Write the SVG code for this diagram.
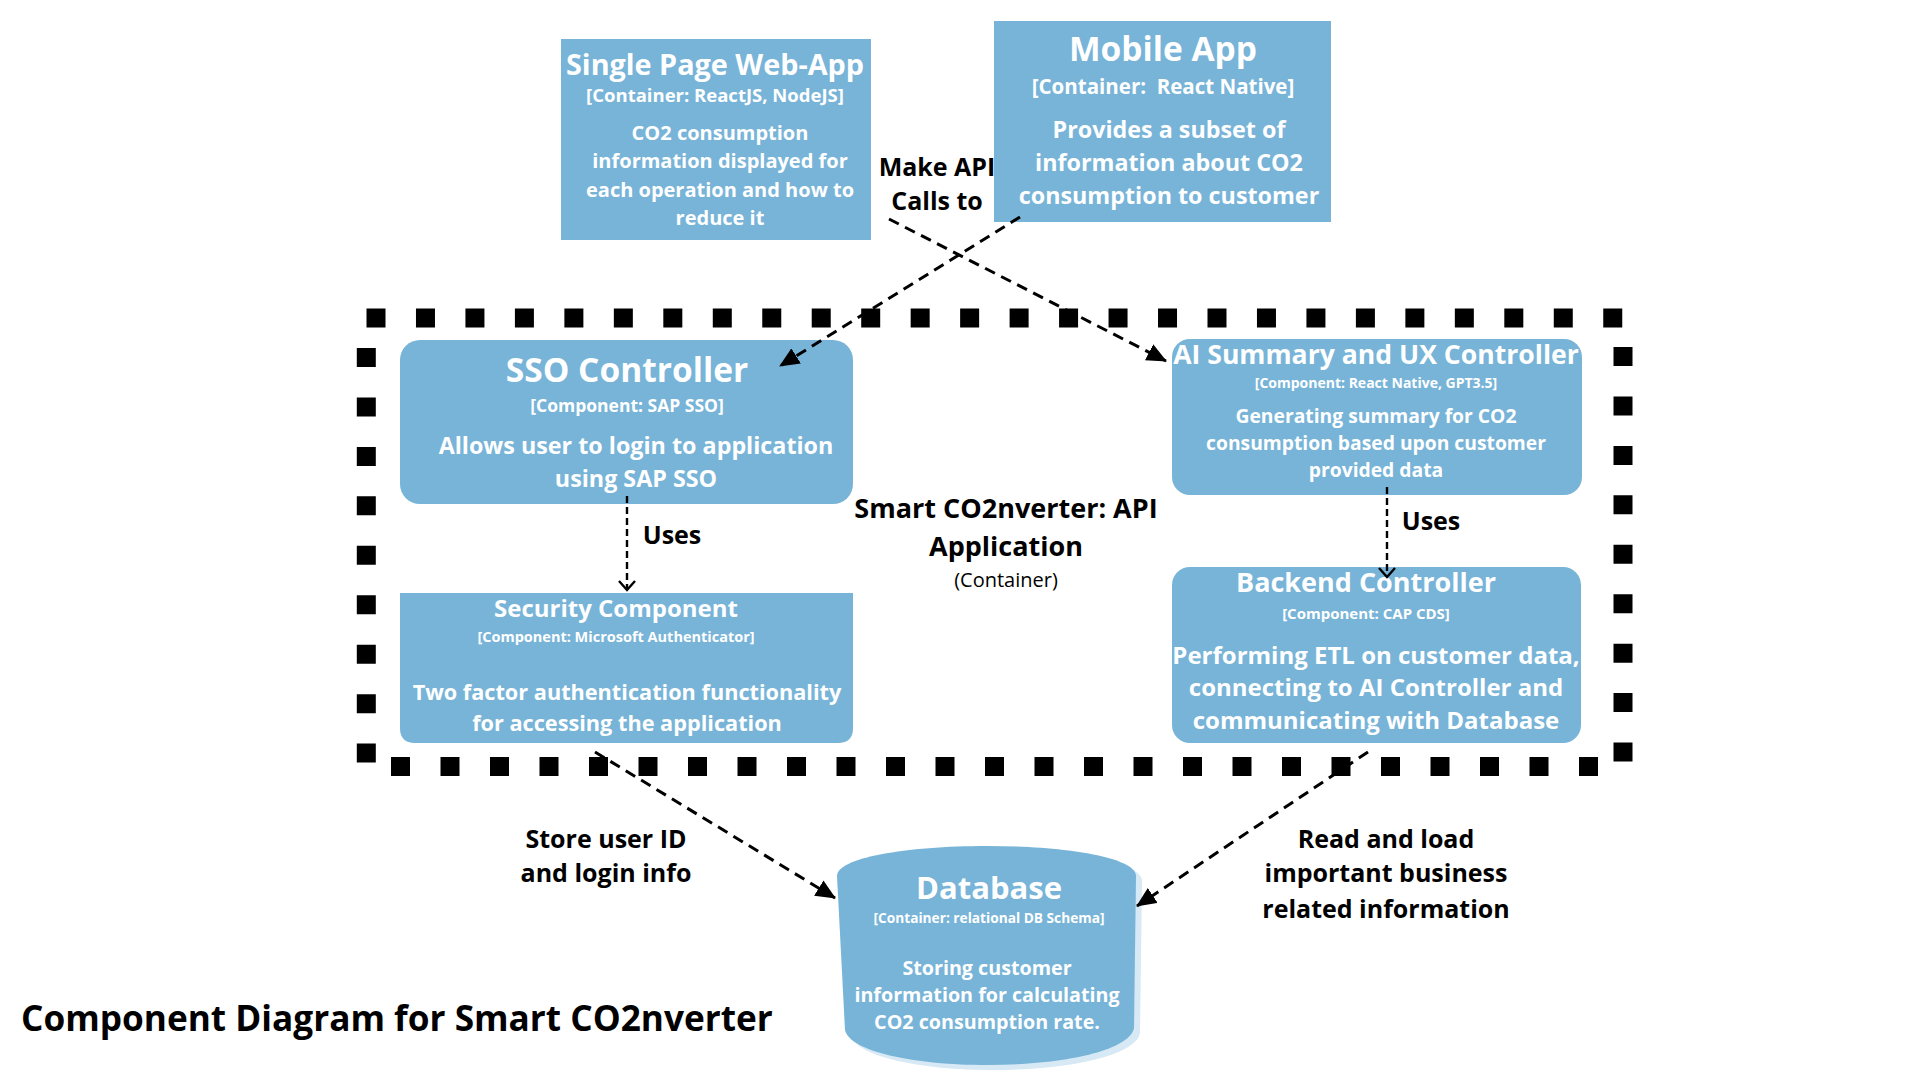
<svg xmlns="http://www.w3.org/2000/svg" width="1920" height="1080" viewBox="0 0 1920 1080">
<defs>
<style>
.box{fill:#77b4d8}
.t{font-family:"Open Sans","Noto Sans","DejaVu Sans",sans-serif;font-weight:700;text-anchor:middle}
.w{fill:#ffffff}
.k{fill:#000000}
.reg{font-weight:400}
.bd{fill:none;stroke:#000;stroke-width:19}
.con{fill:none;stroke:#000;stroke-width:3;stroke-dasharray:11 7}
.thin{fill:none;stroke:#000;stroke-width:2.4;stroke-dasharray:7 4}
</style>
<marker id="tri" markerUnits="userSpaceOnUse" markerWidth="20" markerHeight="18" refX="19" refY="9" orient="auto"><path d="M0,0 L20,9 L0,18 Z" fill="#000"/></marker>
<marker id="chev" markerUnits="userSpaceOnUse" markerWidth="12" markerHeight="20" refX="10" refY="10" orient="auto"><path d="M1,2 L10,10 L1,18" fill="none" stroke="#000" stroke-width="2.4"/></marker>
</defs>
<rect width="1920" height="1080" fill="#ffffff"/>

<g id="boundary">
<line class="bd" x1="366.5" y1="318" x2="1623" y2="318" stroke-dasharray="19 30.47"/>
<line class="bd" x1="366.3" y1="348" x2="366.3" y2="763" stroke-dasharray="19 30.45"/>
<line class="bd" x1="1623" y1="347" x2="1623" y2="762" stroke-dasharray="19 30.44"/>
<line class="bd" x1="391" y1="766.5" x2="1598" y2="766.5" stroke-dasharray="19 30.5"/>
</g>

<g id="labels">
<text class="t k" font-size="25" x="937" y="176">Make API</text>
<text class="t k" font-size="25" x="937" y="210">Calls to</text>
<text class="t k" font-size="25" x="672" y="544">Uses</text>
<text class="t k" font-size="25" x="1431" y="530">Uses</text>
<text class="t k" font-size="27" x="1006" y="518">Smart CO2nverter: API</text>
<text class="t k" font-size="27" x="1006" y="556">Application</text>
<text class="t k reg" font-size="20" x="1006" y="587">(Container)</text>
<text class="t k" font-size="25" x="606" y="848">Store user ID</text>
<text class="t k" font-size="25" x="606" y="882">and login info</text>
<text class="t k" font-size="25" x="1386" y="848">Read and load</text>
<text class="t k" font-size="25" x="1386" y="882">important business</text>
<text class="t k" font-size="25" x="1386" y="918">related information</text>
<text class="t k" font-size="35.2" x="21" y="1031" style="text-anchor:start">Component Diagram for Smart CO2nverter</text>
</g>

<g id="spa">
<rect class="box" x="561" y="39" width="310" height="201"/>
<text class="t w" font-size="28.8" x="715" y="75">Single Page Web-App</text>
<text class="t w" font-size="18.5" x="715" y="102">[Container: ReactJS, NodeJS]</text>
<text class="t w" font-size="20" x="720" y="140">CO2 consumption</text>
<text class="t w" font-size="20" x="720" y="168">information displayed for</text>
<text class="t w" font-size="20" x="720" y="197">each operation and how to</text>
<text class="t w" font-size="20" x="720" y="225">reduce it</text>
</g>

<g id="mobile">
<rect class="box" x="994" y="21" width="337" height="201"/>
<text class="t w" font-size="33.5" x="1163" y="61">Mobile App</text>
<text class="t w" font-size="20.5" x="1163" y="94">[Container:&#160; React Native]</text>
<text class="t w" font-size="23.3" x="1169" y="138">Provides a subset of</text>
<text class="t w" font-size="23.3" x="1169" y="171">information about CO2</text>
<text class="t w" font-size="23.3" x="1169" y="204">consumption to customer</text>
</g>

<g id="sso">
<rect class="box" x="400" y="340" width="453" height="164" rx="20"/>
<text class="t w" font-size="33.5" x="627" y="382">SSO Controller</text>
<text class="t w" font-size="17.5" x="627" y="412">[Component: SAP SSO]</text>
<text class="t w" font-size="23.3" x="636" y="454">Allows user to login to application</text>
<text class="t w" font-size="23.3" x="636" y="487">using SAP SSO</text>
</g>

<g id="security">
<path class="box" d="M400,593 H853 V728 Q853,743 838,743 H415 Q400,743 400,728 Z"/>
<text class="t w" font-size="24" x="616" y="617">Security Component</text>
<text class="t w" font-size="14.5" x="616" y="642">[Component: Microsoft Authenticator]</text>
<text class="t w" font-size="21.7" x="627" y="700">Two factor authentication functionality</text>
<text class="t w" font-size="21.7" x="627" y="731">for accessing the application</text>
</g>

<g id="ai">
<rect class="box" x="1172" y="339" width="410" height="156" rx="18"/>
<text class="t w" font-size="26.6" x="1376" y="364">AI Summary and UX Controller</text>
<text class="t w" font-size="14" x="1376" y="388">[Component: React Native, GPT3.5]</text>
<text class="t w" font-size="19.3" x="1376" y="422.5">Generating summary for CO2</text>
<text class="t w" font-size="19.3" x="1376" y="449.5">consumption based upon customer</text>
<text class="t w" font-size="19.3" x="1376" y="476.5">provided data</text>
</g>

<g id="backend">
<rect class="box" x="1172" y="567" width="409" height="176" rx="18"/>
<text class="t w" font-size="27" x="1366" y="592">Backend Controller</text>
<text class="t w" font-size="15" x="1366" y="618.5">[Component: CAP CDS]</text>
<text class="t w" font-size="24" x="1376" y="664">Performing ETL on customer data,</text>
<text class="t w" font-size="24" x="1376" y="696">connecting to AI Controller and</text>
<text class="t w" font-size="24" x="1376" y="729">communicating with Database</text>
</g>

<g id="database">
<path fill="#d6e9f4" d="M843,881 C843,863 911,851 993,851 C1075,851 1142,863 1142,881 L1140,1033 C1136,1055 1071,1070 993,1070 C921,1070 856,1057 851,1035 Z"/>
<path class="box" d="M837,876 C837,858 905,846 987,846 C1069,846 1136,858 1136,876 L1134,1028 C1130,1050 1065,1065 987,1065 C915,1065 850,1052 845,1030 Z"/>
<text class="t w" font-size="31" x="989" y="899">Database</text>
<text class="t w" font-size="13.7" x="989" y="923">[Container: relational DB Schema]</text>
<text class="t w" font-size="19.7" x="987" y="975">Storing customer</text>
<text class="t w" font-size="19.7" x="987" y="1002">information for calculating</text>
<text class="t w" font-size="19.7" x="987" y="1029">CO2 consumption rate.</text>
</g>

<g id="connectors">
<line class="con" x1="889" y1="219" x2="1166" y2="361" marker-end="url(#tri)"/>
<line class="con" x1="1020" y1="217" x2="780" y2="366" marker-end="url(#tri)"/>
<line class="thin" x1="627" y1="496" x2="627" y2="590" marker-end="url(#chev)"/>
<line class="thin" x1="1387" y1="487" x2="1387" y2="577" marker-end="url(#chev)"/>
<line class="con" x1="595" y1="752" x2="835" y2="898" marker-end="url(#tri)"/>
<line class="con" x1="1368" y1="752" x2="1137" y2="906" marker-end="url(#tri)"/>
</g>
</svg>
